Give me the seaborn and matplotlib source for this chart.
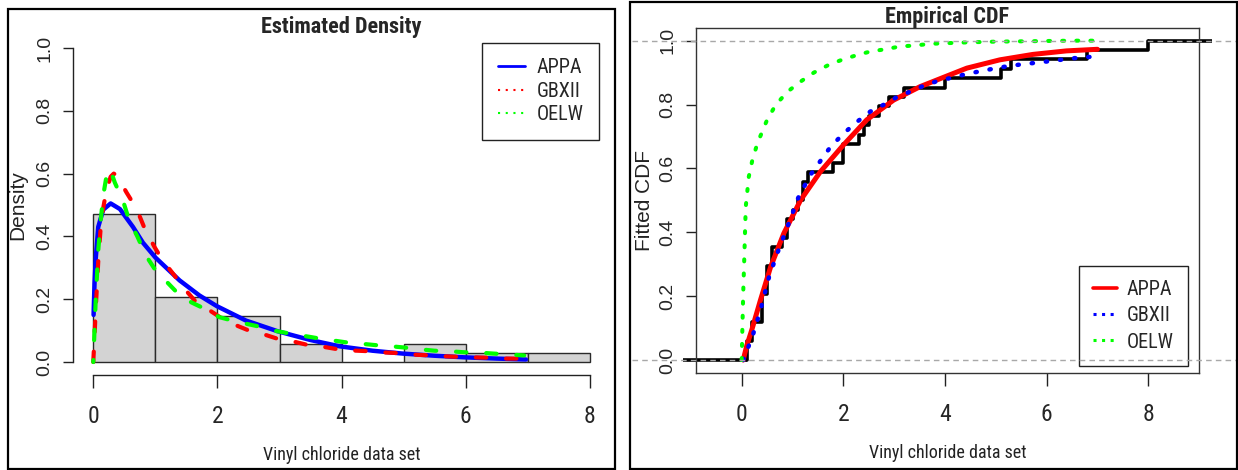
import numpy as np
import matplotlib
matplotlib.use("Agg")
import matplotlib.pyplot as plt
import seaborn as sns
from matplotlib import font_manager as fm
from matplotlib.patches import Rectangle
from matplotlib.lines import Line2D

# Vinyl chloride concentrations (mg/L), clean upgradient monitoring wells
vinyl = [5.1, 1.2, 1.3, 0.6, 0.5, 2.4, 0.5, 1.1, 8.0, 0.8, 0.4, 0.6, 0.9, 0.4,
         2.0, 0.5, 5.3, 3.2, 2.7, 2.9, 2.5, 2.3, 1.0, 0.2, 0.1, 0.1, 1.8, 0.9,
         2.0, 4.0, 6.8, 1.2, 0.4, 0.2]
hist_edges = [0, 1, 2, 3, 4, 5, 6, 7, 8]

model_names = ["APPA", "GBXII", "OELW"]

# Fitted densities
appa_pdf_x = [0.005, 0.02, 0.04, 0.08, 0.16, 0.28, 0.43, 0.64, 0.80, 1.00, 1.39,
              1.71, 1.99, 2.46, 2.97, 3.50, 3.97, 4.50, 4.98, 5.50, 5.98, 6.50, 6.97]
appa_pdf_y = [0.15, 0.25, 0.33, 0.43, 0.485, 0.505, 0.487, 0.43, 0.38, 0.333, 0.26,
              0.212, 0.178, 0.132, 0.098, 0.070, 0.050, 0.036, 0.027, 0.020, 0.015,
              0.011, 0.008]

gbxii_pdf_x = [0.0, 0.02, 0.04, 0.08, 0.12, 0.16, 0.21, 0.28, 0.33, 0.375, 0.45,
               0.535, 0.70, 0.83, 0.99, 1.12, 1.31, 1.47, 1.66, 1.87, 2.14, 2.30,
               2.51, 2.75, 2.97, 3.21, 3.42, 3.66, 3.90, 4.14, 4.38, 4.62, 4.86,
               5.10, 5.34, 5.58, 5.82, 6.06, 6.33, 6.57, 6.78, 7.0]
gbxii_pdf_y = [0.0, 0.08, 0.17, 0.32, 0.43, 0.49, 0.545, 0.59, 0.60, 0.595, 0.57,
               0.54, 0.487, 0.424, 0.365, 0.323, 0.275, 0.233, 0.19, 0.165, 0.13,
               0.117, 0.10, 0.088, 0.074, 0.066, 0.056, 0.05, 0.042, 0.037, 0.035,
               0.031, 0.029, 0.024, 0.022, 0.019, 0.017, 0.015, 0.014, 0.011,
               0.011, 0.010]

oelw_pdf_x = [0.0, 0.02, 0.04, 0.08, 0.12, 0.16, 0.22, 0.27, 0.348, 0.48, 0.58,
              0.71, 0.845, 0.99, 1.19, 1.38, 1.58, 1.79, 2.03, 2.24, 2.46, 2.67,
              2.91, 3.13, 3.37, 3.58, 3.85, 4.06, 4.33, 4.54, 4.81, 5.02, 5.29,
              5.50, 5.77, 5.98, 6.22, 6.44, 6.70, 6.94]
oelw_pdf_y = [0.0, 0.10, 0.20, 0.355, 0.45, 0.53, 0.60, 0.615, 0.571, 0.513, 0.45,
              0.40, 0.34, 0.296, 0.254, 0.215, 0.19, 0.17, 0.143, 0.132, 0.122,
              0.113, 0.10, 0.092, 0.084, 0.077, 0.069, 0.063, 0.058, 0.054, 0.050,
              0.046, 0.040, 0.036, 0.034, 0.031, 0.030, 0.027, 0.024, 0.021]

# Fitted distribution functions
appa_cdf_x = [0.03, 0.1, 0.2, 0.37, 0.57, 0.83, 1.16, 1.55, 2.0, 2.46, 2.99, 3.51,
              4.0, 4.43, 5.08, 5.73, 6.39, 7.0]
appa_cdf_y = [0.0, 0.045, 0.095, 0.188, 0.292, 0.397, 0.501, 0.59, 0.673, 0.752,
              0.814, 0.856, 0.887, 0.914, 0.94, 0.957, 0.968, 0.973]

gbxii_cdf_x = [0.03, 0.21, 0.37, 0.54, 0.70, 0.90, 1.12, 1.35, 1.75, 2.01, 2.27,
               2.53, 2.79, 3.05, 3.31, 3.61, 3.90, 4.17, 4.43, 4.72, 5.01, 5.27,
               5.57, 5.86, 6.12, 6.42, 6.70, 6.97]
gbxii_cdf_y = [0.0, 0.073, 0.157, 0.261, 0.334, 0.417, 0.511, 0.579, 0.668, 0.71,
               0.746, 0.778, 0.799, 0.823, 0.84, 0.861, 0.876, 0.885, 0.896, 0.905,
               0.914, 0.921, 0.927, 0.932, 0.937, 0.943, 0.948, 0.95]

oelw_cdf_x = [0.0, 0.01, 0.03, 0.05, 0.08, 0.14, 0.21, 0.31, 0.50, 0.67, 0.90,
              1.16, 1.42, 1.71, 1.97, 2.27, 2.53, 2.82, 3.12, 3.41, 3.71, 4.0,
              4.5, 5.0, 5.5, 6.0, 6.5, 7.0]
oelw_cdf_y = [0.0, 0.073, 0.209, 0.313, 0.48, 0.574, 0.626, 0.679, 0.752, 0.799,
              0.84, 0.872, 0.90, 0.924, 0.94, 0.955, 0.966, 0.973, 0.982, 0.985,
              0.99, 0.992, 0.995, 0.997, 0.998, 0.999, 1.0, 1.0]

BLUE, RED, GREEN = "#0000FF", "#FF0000", "#00FF00"

sns.set_theme(style="ticks")

# pick a narrow grotesque for horizontal text, an Arial-like face for rotated text
installed = {f.name for f in fm.fontManager.ttflist}


def first_installed(prefs):
    for name in prefs:
        if name in installed:
            return name
    return "DejaVu Sans"


narrow_face = first_installed(["Liberation Sans Narrow", "Arial Narrow", "Roboto Condensed",
                               "Archivo Narrow", "PT Sans Narrow",
                               "IBM Plex Sans Condensed", "Liberation Sans"])
regular_face = first_installed(["Liberation Sans", "Arimo", "DejaVu Sans"])
NARROW = [narrow_face, "DejaVu Sans"]
REGULAR = [regular_face, "DejaVu Sans"]
plt.rcParams["font.family"] = NARROW
plt.rcParams["axes.linewidth"] = 1.0

W, H = 1238, 470
fig = plt.figure(figsize=(W / 100, H / 100), dpi=100)


def px_axes(left, top, right, bottom):
    return fig.add_axes([left / W, 1 - bottom / H, (right - left) / W, (bottom - top) / H])


# ---------------- left: histogram with fitted densities ----------------
ax1 = px_axes(73.4, 35.4, 609.8, 374.6)

# R-style right-closed bins
bin_idx = np.digitize(vinyl, hist_edges, right=True) - 1
counts = np.bincount(bin_idx, minlength=len(hist_edges) - 1)
mids = np.array(hist_edges[:-1]) + 0.5
sns.histplot(x=mids, weights=counts, bins=hist_edges, stat="density",
             color="#D3D3D3", edgecolor="#2a2a2a", linewidth=1.0, alpha=1.0,
             ax=ax1, zorder=1)

sns.lineplot(x=appa_pdf_x, y=appa_pdf_y, color=BLUE, lw=3.2, sort=False,
             estimator=None, ax=ax1, legend=False, solid_capstyle="round", zorder=3)
sns.lineplot(x=gbxii_pdf_x, y=gbxii_pdf_y, color=RED, lw=3.0, linestyle=(0, (2.5, 4.75)),
             dash_capstyle="round", sort=False, estimator=None, ax=ax1,
             legend=False, zorder=4)
sns.lineplot(x=oelw_pdf_x, y=oelw_pdf_y, color=GREEN, lw=3.0, linestyle=(2, (2.5, 4.75)),
             dash_capstyle="round", sort=False, estimator=None, ax=ax1,
             legend=False, zorder=5)

ax1.set_xlim(-0.32, 8.32)
ax1.set_ylim(-0.04, 1.04)
ax1.set_xticks([0, 2, 4, 6, 8])
ax1.set_yticks([0.0, 0.2, 0.4, 0.6, 0.8, 1.0])
ax1.set_yticklabels(["0.0", "0.2", "0.4", "0.6", "0.8", "1.0"])
for s in ["top", "right"]:
    ax1.spines[s].set_visible(False)
ax1.spines["left"].set_bounds(0, 1)
ax1.spines["bottom"].set_bounds(0, 8)
for s in ["left", "bottom"]:
    ax1.spines[s].set_color("#222222")

ax1.set_title("Estimated Density", fontsize=16, fontweight="bold", y=1.0085, pad=0,
              family=NARROW)
ax1.set_xlabel("Vinyl chloride data set", fontsize=13, labelpad=13, family=NARROW)
ax1.set_ylabel("Density", fontsize=15, labelpad=7, family=REGULAR)

# ---------------- right: empirical CDF with fitted CDFs ----------------
ax2 = px_axes(696, 27.9, 1199, 372.8)

sns.ecdfplot(x=vinyl, ax=ax2, color="black", lw=2.6, zorder=2)
lo, hi = min(vinyl), max(vinyl)
tail = 0.16 * (hi - lo)
ax2.plot([lo - tail, lo], [0, 0], color="black", lw=2.6, clip_on=False,
         solid_capstyle="butt", zorder=2)
ax2.plot([hi, hi + tail], [1, 1], color="black", lw=2.6, clip_on=False,
         solid_capstyle="butt", zorder=2)

sns.lineplot(x=appa_cdf_x, y=appa_cdf_y, color=RED, lw=3.6, sort=False,
             estimator=None, ax=ax2, legend=False, solid_capstyle="round", zorder=3)
sns.lineplot(x=gbxii_cdf_x, y=gbxii_cdf_y, color=BLUE, lw=3.2,
             linestyle=(0, (0.3, 2.9)), dash_capstyle="round", sort=False,
             estimator=None, ax=ax2, legend=False, zorder=4)
sns.lineplot(x=oelw_cdf_x, y=oelw_cdf_y, color=GREEN, lw=2.9,
             linestyle=(0, (0.5, 3.0)), dash_capstyle="round", sort=False,
             estimator=None, ax=ax2, legend=False, zorder=5)

for yref in (0, 1):
    ax2.axhline(yref, xmin=-0.127, xmax=1.074, clip_on=False, color="#A8A8A8",
                lw=1.0, linestyle=(0, (4, 3)), zorder=6)

ax2.set_xlim(-0.899, 8.999)
ax2.set_ylim(-0.04, 1.04)
ax2.set_xticks([0, 2, 4, 6, 8])
ax2.set_yticks([0.0, 0.2, 0.4, 0.6, 0.8, 1.0])
ax2.set_yticklabels(["0.0", "0.2", "0.4", "0.6", "0.8", "1.0"])
for s in ax2.spines.values():
    s.set_color("#333333")
    s.set_linewidth(1.0)

ax2.set_title("Empirical CDF", fontsize=16, fontweight="bold", y=1.0128, pad=0,
              family=NARROW)
ax2.set_xlabel("Vinyl chloride data set", fontsize=13, labelpad=13, family=NARROW)
ax2.set_ylabel("Fitted CDF", fontsize=15, labelpad=4, family=REGULAR)

# shared tick styling
for ax in (ax1, ax2):
    ax.tick_params(axis="x", direction="out", length=9.6, width=1.0, pad=12,
                   labelsize=17, color="#222222", bottom=True)
    ax.tick_params(axis="y", direction="out", length=7.2, width=1.0, pad=7,
                   labelsize=14, color="#222222", left=True)
    for lab in ax.get_xticklabels():
        lab.set_family(NARROW)
    for lab in ax.get_yticklabels():
        lab.set_family(REGULAR)
        lab.set_rotation(90)
        lab.set_va("center")
        lab.set_ha("right")
    ax.xaxis.label.set_color("#222222")
    ax.yaxis.label.set_color("#222222")

# legends
leg_font = {"family": NARROW, "size": 14.5}
h1 = [Line2D([], [], color=BLUE, lw=2.0),
      Line2D([], [], color=RED, lw=1.5, linestyle=(0, (1, 2.7))),
      Line2D([], [], color=GREEN, lw=1.5, linestyle=(0, (1, 2.7)))]
leg1 = ax1.legend(h1, model_names, loc="upper right",
                  bbox_to_anchor=(599 / W, 1 - 42.7 / H), bbox_transform=fig.transFigure,
                  frameon=True, fancybox=False, framealpha=1, edgecolor="#222222",
                  borderaxespad=0, handlelength=1.35, handletextpad=0.55,
                  labelspacing=0.22, borderpad=0.78, prop=leg_font)
leg1.get_frame().set_linewidth(1.0)

h2 = [Line2D([], [], color=RED, lw=2.6),
      Line2D([], [], color=BLUE, lw=2.2, linestyle=(0, (1, 1.8))),
      Line2D([], [], color=GREEN, lw=2.2, linestyle=(0, (1, 1.8)))]
leg2 = ax2.legend(h2, model_names, loc="lower right",
                  bbox_to_anchor=(1188 / W, 1 - 366 / H), bbox_transform=fig.transFigure,
                  frameon=True, fancybox=False, framealpha=1, edgecolor="#222222",
                  borderaxespad=0, handlelength=1.2, handletextpad=0.45,
                  labelspacing=0.36, borderpad=0.72, prop=leg_font)
leg2.get_frame().set_linewidth(1.0)

# panel frames
fig.add_artist(Rectangle((8 / W, 1 - 469 / H), (615 - 8) / W, (469 - 9) / H,
                         transform=fig.transFigure, fill=False, lw=1.6, ec="black"))
fig.add_artist(Rectangle((630 / W, 1 - 469 / H), (1236.5 - 630) / W, (469 - 2) / H,
                         transform=fig.transFigure, fill=False, lw=1.6, ec="black"))

fig.savefig("out.png", dpi=100, facecolor="white")
